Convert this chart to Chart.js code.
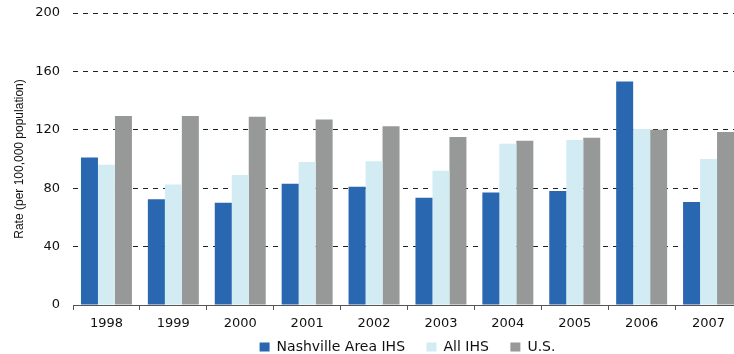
<!DOCTYPE html>
<html>
<head>
<meta charset="utf-8">
<title>Rate per 100,000 population</title>
<script src="https://cdn.jsdelivr.net/npm/chart.js@4.4.1/dist/chart.umd.min.js"></script>
<style>
  html, body { margin: 0; padding: 0; background: #fff; overflow: hidden; }
  #wrap { width: 744px; height: 354px; }
</style>
</head>
<body>
<div id="wrap"><canvas id="rateChart" width="744" height="354"></canvas></div>
<script>
var years = ["1998", "1999", "2000", "2001", "2002", "2003", "2004", "2005", "2006", "2007"];
var nashvilleRates = [101, 72.5, 70, 83, 81, 73.5, 77, 78, 153, 70.5];
var allIhsRates = [96, 82.5, 89, 98, 98.5, 92, 110.5, 113, 120.5, 100];
var usRates = [129.5, 129.5, 129, 127, 122.5, 115, 112.5, 114.5, 120, 118.5];
var yMin = 0, yMax = 200, yStep = 40;

var seriesNames = ["Nashville Area IHS", "All IHS", "U.S."];
var seriesColors = ["#2a67b1", "#d3ecf3", "#979898"];

// distance from the x axis line down to the top of the legend box
var legendGap = 13.5;

// keep the legend centred under the plot area and tucked up below the year labels
var legendUnderPlot = {
    id: "legendUnderPlot",
    afterLayout: function (chart) {
        var legend = chart.legend;
        if (legend) {
            var h = legend.bottom - legend.top;
            legend.left = chart.chartArea.left;
            legend.right = chart.chartArea.right;
            legend.top = chart.chartArea.bottom + legendGap;
            legend.bottom = legend.top + h;
        }
    }
};

var ctx = document.getElementById("rateChart").getContext("2d");
var rateChart = new Chart(ctx, {
    type: "bar",
    data: {
        labels: years,
        datasets: [
            { label: seriesNames[0], data: nashvilleRates, backgroundColor: seriesColors[0] },
            { label: seriesNames[1], data: allIhsRates, backgroundColor: seriesColors[1] },
            { label: seriesNames[2], data: usRates, backgroundColor: seriesColors[2] }
        ]
    },
    options: {
        responsive: false,
        animation: false,
        devicePixelRatio: 1,
        layout: { padding: { top: 13, right: 2, left: 0, bottom: -24.5 } },
        datasets: {
            bar: { barPercentage: 1, categoryPercentage: 0.762, borderWidth: 0 }
        },
        plugins: {
            legend: {
                position: "bottom",
                labels: {
                    boxWidth: 10,
                    boxHeight: 9,
                    padding: 21.5,
                    color: "#111",
                    font: { family: "DejaVu Sans", size: 14 }
                }
            },
            tooltip: { enabled: false }
        },
        scales: {
            x: {
                z: 1,
                grid: {
                    drawOnChartArea: false,
                    offset: true,
                    tickLength: 5,
                    color: "#555"
                },
                border: { display: true, color: "#555", dash: [5, 5] },
                ticks: {
                    padding: 6,
                    color: "#111",
                    font: { family: "DejaVu Sans", size: 13 }
                },
                afterFit: function (scale) { scale.height = 28; }
            },
            y: {
                min: yMin,
                max: yMax,
                ticks: {
                    stepSize: yStep,
                    padding: 0,
                    color: "#111",
                    font: { family: "DejaVu Sans", size: 13 }
                },
                // invisible tick marks leave the gap between labels and plot
                grid: { tickLength: 13, tickColor: "rgba(0,0,0,0)", color: "#222", lineWidth: 1 },
                border: { display: false, dash: [5, 5] },
                title: {
                    display: true,
                    text: "Rate (per 100,000 population)",
                    color: "#111",
                    padding: { top: 12, bottom: 0 },
                    font: { family: "Liberation Sans", size: 12 }
                },
                afterFit: function (scale) { scale.width = 73; }
            }
        }
    },
    plugins: [legendUnderPlot]
});
</script>
</body>
</html>
